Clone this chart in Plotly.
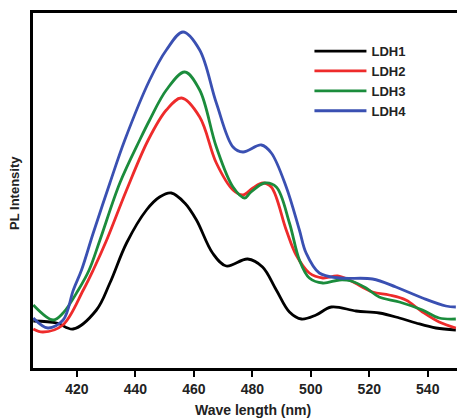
import plotly.graph_objects as go

# LDH1 (black)
wl_ldh1 = [405.1, 413.1, 418.7, 426.7, 431.3, 437.0, 443.8, 448.3, 452.3, 456.9, 460.9, 466.4,
           471.1, 478.4, 483.5, 488.2, 492.7, 496.8, 501.8, 507.0, 515.5, 523.4, 530.3, 536.0,
           542.8, 549.6]
pl_ldh1 = [47, 45, 39, 58, 85, 125, 158, 171, 175, 165, 148, 115,
           102, 109, 101, 78, 56, 49, 53, 61, 57, 55, 50, 45,
           40, 38]

# LDH2 (red)
wl_ldh2 = [405.1, 408.4, 415.2, 422.2, 425.6, 430.2, 437.0, 444.4, 450.6, 455.8, 462.0, 467.7,
           473.4, 476.8, 480.2, 483.6, 486.5, 491.6, 495.0, 499.5, 504.1, 509.2, 513.8, 521.1,
           526.8, 532.5, 538.2, 543.9, 549.6]
pl_ldh2 = [39, 36, 43, 78, 98, 128, 178, 228, 258, 270, 251, 205,
           178, 173, 180, 185, 181, 138, 113, 95, 90, 92, 87, 76,
           73, 68, 56, 46, 40]

# LDH3 (green)
wl_ldh3 = [405.1, 411.9, 415.3, 420.5, 424.2, 427.9, 434.7, 441.5, 444.9, 450.6, 456.9, 462.0,
           467.7, 473.4, 477.4, 479.2, 484.2, 488.2, 492.7, 496.1, 499.5, 504.1, 509.8, 513.8,
           518.9, 523.4, 530.3, 538.2, 543.9, 549.6]
pl_ldh3 = [63, 48, 55, 78, 98, 128, 185, 228, 248, 278, 296, 278,
           221, 181, 170, 175, 185, 181, 145, 108, 90, 85, 88, 87,
           80, 71, 66, 58, 50, 49]

# LDH4 (blue)
wl_ldh4 = [405.1, 410.1, 415.3, 418.8, 421.6, 425.6, 431.3, 436.4, 444.9, 450.6, 456.3, 462.0,
           467.7, 473.4, 476.8, 483.1, 486.5, 491.6, 496.1, 498.4, 502.9, 509.8, 521.1, 529.1,
           538.2, 546.2, 549.6]
pl_ldh4 = [50, 40, 48, 78, 98, 135, 185, 228, 288, 318, 336, 318,
           265, 221, 216, 223, 215, 181, 138, 115, 95, 90, 89, 81,
           70, 62, 61]

x_ticks = [420, 440, 460, 480, 500, 520, 540]

series = [
    ("LDH1", wl_ldh1, pl_ldh1, "#000000"),
    ("LDH2", wl_ldh2, pl_ldh2, "#ee2b2b"),
    ("LDH3", wl_ldh3, pl_ldh3, "#1b8c3c"),
    ("LDH4", wl_ldh4, pl_ldh4, "#3a50b2"),
]

fig = go.Figure()
for name, xs, ys, col in series:
    fig.add_trace(go.Scatter(x=xs, y=ys, name=name, mode="lines",
                             line=dict(color=col, width=2.8, shape="spline", smoothing=1.0)))

font = "Liberation Sans, Arial, sans-serif"
fig.update_layout(
    width=457, height=419,
    margin=dict(l=33, r=0, t=13, b=51),
    paper_bgcolor="white", plot_bgcolor="white",
    showlegend=True,
    legend=dict(x=0.652, y=0.935, xanchor="left", yanchor="top",
                bgcolor="rgba(0,0,0,0)", itemwidth=52, tracegroupgap=0,
                font=dict(family=font, size=13, color="#222", weight="bold")),
    xaxis=dict(range=[405, 550], tickvals=x_ticks, ticks="outside", ticklen=6, tickwidth=2,
               tickcolor="#000", showline=True, linecolor="#000", linewidth=2.5, mirror=True,
               showgrid=False, zeroline=False,
               tickfont=dict(family=font, size=14, color="#222", weight="bold")),
    yaxis=dict(range=[0, 355], showticklabels=False, ticks="", showline=True,
               linecolor="#000", linewidth=2.5, showgrid=False, zeroline=False),
    annotations=[
        dict(text="Wave length (nm)", xref="paper", yref="paper", x=0.519, y=-0.119,
             xanchor="center", yanchor="middle", showarrow=False,
             font=dict(family=font, size=14, color="#222", weight="bold")),
        dict(text="PL Intensity", xref="paper", yref="paper", x=-0.0425, y=0.493,
             xanchor="center", yanchor="middle", showarrow=False, textangle=-90,
             font=dict(family=font, size=13, color="#222", weight="bold")),
    ],
)

fig.write_html("out.html", config={"displayModeBar": False},
               post_script="document.body.style.margin='0px';")
